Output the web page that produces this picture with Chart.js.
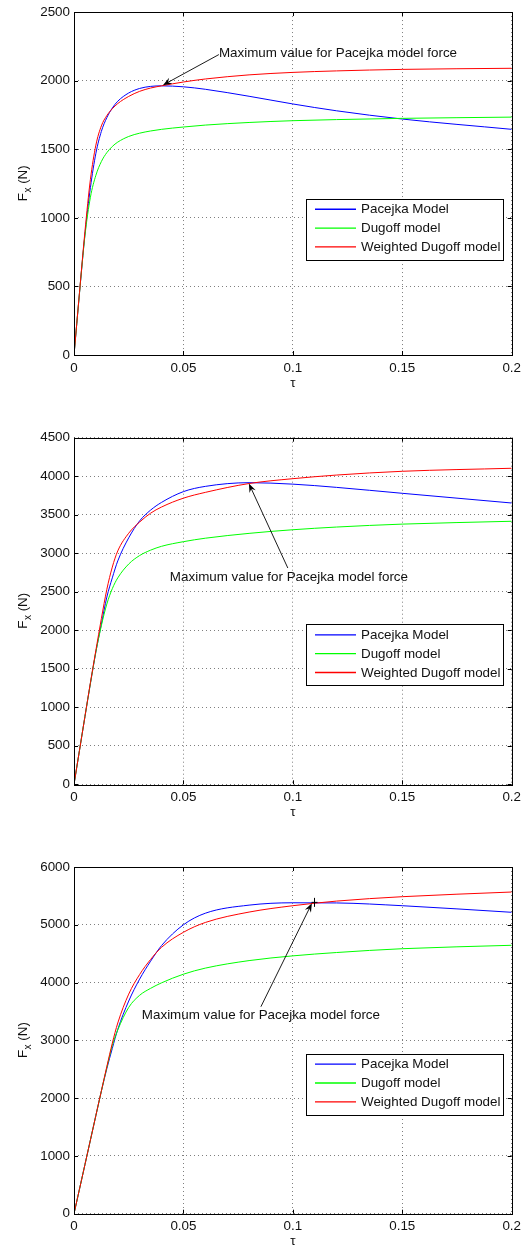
<!DOCTYPE html>
<html><head><meta charset="utf-8">
<script src="https://cdn.jsdelivr.net/npm/chart.js@4.4.1/dist/chart.umd.min.js"></script>
<style>
html,body{margin:0;padding:0;background:#fff;}
#wrap{position:relative;width:526px;height:1249px;overflow:hidden;background:#fff;}
canvas{position:absolute;left:0;}
</style></head><body><div id="wrap">
<canvas id="c1" width="526" height="400" style="top:0px"></canvas>
<canvas id="c2" width="526" height="420" style="top:400px"></canvas>
<canvas id="c3" width="526" height="429" style="top:820px"></canvas>
</div>
<script>
// ---------- DATA ----------
const tau = [0, 0.0025, 0.005, 0.0075, 0.01, 0.0125, 0.015, 0.0175, 0.02, 0.025, 0.03, 0.035, 0.04, 0.05, 0.06, 0.08, 0.1, 0.12, 0.15, 0.2];
const xTickLabels = ['0', '0.05', '0.1', '0.15', '0.2'];
const seriesNames = ['Pacejka Model', 'Dugoff model', 'Weighted Dugoff model'];
const annotationText = 'Maximum value for Pacejka model force';
const xTitle = 'τ';

// Plot 1
const pacejka1  = [0, 450, 880, 1220, 1470, 1630, 1730, 1800, 1850, 1910, 1943, 1958, 1962, 1955, 1937, 1886, 1830, 1780, 1720, 1645];
const dugoff1   = [0, 450, 870, 1150, 1310, 1410, 1475, 1520, 1552, 1593, 1617, 1633, 1645, 1662, 1676, 1695, 1708, 1716, 1725, 1734];
const weighted1 = [0, 455, 900, 1280, 1530, 1670, 1745, 1795, 1833, 1885, 1922, 1946, 1962, 1990, 2012, 2042, 2060, 2071, 2082, 2090];
const yTicks1 = ['0', '500', '1000', '1500', '2000', '2500'];

// Plot 2
const pacejka2  = [0, 440, 880, 1310, 1720, 2080, 2430, 2680, 2900, 3200, 3420, 3560, 3660, 3800, 3868, 3916, 3897, 3855, 3778, 3652];
const dugoff2   = [0, 440, 880, 1310, 1720, 2060, 2340, 2540, 2680, 2860, 2970, 3040, 3090, 3150, 3195, 3258, 3305, 3340, 3378, 3415];
const weighted2 = [0, 440, 880, 1320, 1740, 2150, 2530, 2820, 3030, 3260, 3405, 3520, 3600, 3715, 3790, 3905, 3968, 4015, 4064, 4103];
const yTicks2 = ['0', '500', '1000', '1500', '2000', '2500', '3000', '3500', '4000', '4500'];

// Plot 3
const pacejka3  = [0, 425, 850, 1275, 1700, 2120, 2510, 2860, 3190, 3680, 4060, 4370, 4640, 5000, 5200, 5340, 5381, 5378, 5330, 5216];
const dugoff3   = [0, 425, 850, 1275, 1700, 2120, 2530, 2910, 3180, 3570, 3780, 3900, 3995, 4145, 4250, 4380, 4462, 4520, 4586, 4645];
const weighted3 = [0, 425, 850, 1275, 1700, 2125, 2545, 2950, 3300, 3800, 4140, 4400, 4610, 4870, 5040, 5220, 5330, 5410, 5486, 5567];
const yTicks3 = ['0', '1000', '2000', '3000', '4000', '5000', '6000'];

// ---------- STYLE / LAYOUT ----------
const FONT = '"Liberation Sans", Arial, Helvetica, sans-serif';
const FS = 13.4;
const colors = ['#0000ff', '#00ff00', '#ff0000'];
const plotLeft = 74, plotRight = 512;

function toPts(arr) { return tau.map((x, i) => ({x: x, y: arr[i]})); }

function drawArrow(ctx, x1, y1, x2, y2) {
  const ang = Math.atan2(y2 - y1, x2 - x1);
  const L = 9, W = 3.4;
  ctx.save();
  ctx.strokeStyle = '#000'; ctx.fillStyle = '#000'; ctx.lineWidth = 0.9;
  ctx.beginPath(); ctx.moveTo(x1, y1);
  ctx.lineTo(x2 - Math.cos(ang) * L * 0.6, y2 - Math.sin(ang) * L * 0.6); ctx.stroke();
  const bx = x2 - Math.cos(ang) * L, by = y2 - Math.sin(ang) * L;
  const nx = -Math.sin(ang), ny = Math.cos(ang);
  const mx = x2 - Math.cos(ang) * L * 0.65, my = y2 - Math.sin(ang) * L * 0.65;
  ctx.beginPath();
  ctx.moveTo(x2, y2);
  ctx.lineTo(bx + nx * W, by + ny * W);
  ctx.lineTo(mx, my);
  ctx.lineTo(bx - nx * W, by - ny * W);
  ctx.closePath(); ctx.fill();
  ctx.restore();
}

const decoPlugin = {
  id: 'matlabDeco',
  afterDraw(chart) {
    const ctx = chart.ctx, a = chart.chartArea, o = chart.options.plugins.matlabDeco;
    const xs = chart.scales.x, ys = chart.scales.y;
    ctx.save();
    // box
    ctx.strokeStyle = '#000'; ctx.lineWidth = 1;
    ctx.strokeRect(Math.round(a.left) + 0.5, Math.round(a.top) + 0.5, Math.round(a.right - a.left), Math.round(a.bottom - a.top));
    // inward ticks
    const tl = 4;
    ctx.beginPath();
    xs.ticks.forEach(t => {
      const px = Math.round(xs.getPixelForValue(t.value)) + 0.5;
      ctx.moveTo(px, a.bottom); ctx.lineTo(px, a.bottom - tl);
      ctx.moveTo(px, a.top); ctx.lineTo(px, a.top + tl);
    });
    ys.ticks.forEach(t => {
      const py = Math.round(ys.getPixelForValue(t.value)) + 0.5;
      ctx.moveTo(a.left, py); ctx.lineTo(a.left + tl, py);
      ctx.moveTo(a.right, py); ctx.lineTo(a.right - tl, py);
    });
    ctx.stroke();

    // legend
    const lx0 = 306, lx1 = 503, ly0 = a.top + 186.5, lh = 61;
    ctx.fillStyle = '#fff';
    ctx.fillRect(lx0, ly0, lx1 - lx0, lh);
    ctx.strokeStyle = '#000'; ctx.lineWidth = 1;
    ctx.strokeRect(lx0 + 0.5, Math.round(ly0) + 0.5, lx1 - lx0, lh);
    ctx.font = FS + 'px ' + FONT; ctx.textBaseline = 'middle'; ctx.textAlign = 'left';
    chart.data.datasets.forEach((ds, i) => {
      const ry = ly0 + 10.7 + i * 18.8;
      ctx.strokeStyle = colors[i]; ctx.lineWidth = 1.3;
      ctx.beginPath(); ctx.moveTo(315, ry); ctx.lineTo(356, ry); ctx.stroke();
      ctx.fillStyle = '#111';
      ctx.fillText(ds.label, 361, ry + 0.5);
    });

    // annotation
    const an = o.ann;
    const tx = xs.getPixelForValue(an.text.x), ty = ys.getPixelForValue(an.text.y);
    ctx.fillStyle = '#111'; ctx.font = FS + 'px ' + FONT; ctx.textBaseline = 'middle'; ctx.textAlign = 'left';
    ctx.fillText(annotationText, tx, ty);
    drawArrow(ctx, xs.getPixelForValue(an.tail.x), ys.getPixelForValue(an.tail.y),
                   xs.getPixelForValue(an.tip.x), ys.getPixelForValue(an.tip.y));
    if (an.marker) {
      const mx = Math.round(xs.getPixelForValue(an.marker.x)) + 0.5, my = ys.getPixelForValue(an.marker.y);
      ctx.strokeStyle = '#000'; ctx.lineWidth = 1;
      ctx.beginPath(); ctx.moveTo(mx, my - 4.5); ctx.lineTo(mx, my + 4.5);
      ctx.moveTo(mx - 3, my); ctx.lineTo(mx + 3, my); ctx.stroke();
    }

    // y title  F_x (N)
    ctx.save();
    ctx.translate(27, (a.top + a.bottom) / 2);
    ctx.rotate(-Math.PI / 2);
    ctx.fillStyle = '#111'; ctx.textBaseline = 'alphabetic'; ctx.textAlign = 'left';
    ctx.font = FS + 'px ' + FONT; const wF = ctx.measureText('F').width;
    ctx.font = '10px ' + FONT; const wx = ctx.measureText('x').width;
    ctx.font = FS + 'px ' + FONT; const wN = ctx.measureText(' (N)').width;
    let sx = -(wF + wx + wN) / 2;
    ctx.font = FS + 'px ' + FONT; ctx.fillText('F', sx, 0); sx += wF + 0.5;
    ctx.font = '10px ' + FONT; ctx.fillText('x', sx, 4); sx += wx;
    ctx.font = FS + 'px ' + FONT; ctx.fillText(' (N)', sx, 0);
    ctx.restore();

    // x title
    ctx.fillStyle = '#111'; ctx.font = FS + 'px ' + FONT; ctx.textAlign = 'center'; ctx.textBaseline = 'middle';
    ctx.fillText(xTitle, (a.left + a.right) / 2, a.bottom + 28);
    ctx.restore();
  }
};

function makeChart(id, canvasH, top, bottom, series, yTicks, ann) {
  const yMax = Number(yTicks[yTicks.length - 1]);
  const yStep = Number(yTicks[1]);
  const order = [3, 2, 1];
  return new Chart(document.getElementById(id), {
    type: 'line',
    data: {
      datasets: series.map((arr, i) => ({
        label: seriesNames[i], data: toPts(arr), borderColor: colors[i], backgroundColor: colors[i],
        borderWidth: 1, pointRadius: 0, fill: false, cubicInterpolationMode: 'monotone', order: order[i]
      }))
    },
    options: {
      responsive: false, animation: false, devicePixelRatio: 1,
      layout: { padding: { top: top, right: 526 - plotRight, left: 0, bottom: 0 } },
      plugins: { legend: { display: false }, tooltip: { enabled: false }, matlabDeco: { ann: ann } },
      scales: {
        x: {
          type: 'linear', min: 0, max: 0.2,
          afterFit: s => { s.height = canvasH - bottom; },
          grid: { color: 'rgba(0,0,0,0.5)', lineWidth: 1, drawTicks: false },
          border: { display: false, dash: [1, 3] },
          ticks: { stepSize: 0.05, padding: 5, color: '#111', font: { size: FS, family: FONT },
                   maxRotation: 0, autoSkip: false,
                   callback: (v, i) => xTickLabels[i] }
        },
        y: {
          type: 'linear', min: 0, max: yMax,
          afterFit: s => { s.width = plotLeft; },
          grid: { color: 'rgba(0,0,0,0.5)', lineWidth: 1, drawTicks: false },
          border: { display: false, dash: [1, 3] },
          ticks: { stepSize: yStep, padding: 4, color: '#111', font: { size: FS, family: FONT },
                   autoSkip: false, callback: (v, i) => yTicks[i] }
        }
      }
    },
    plugins: [decoPlugin]
  });
}

makeChart('c1', 400, 8.3, 355, [pacejka1, dugoff1, weighted1], yTicks1,
  { text: {x: 0.0662, y: 2197}, tail: {x: 0.0662, y: 2190}, tip: {x: 0.0406, y: 1967} });
makeChart('c2', 420, 37.7, 384.3, [pacejka2, dugoff2, weighted2], yTicks2,
  { text: {x: 0.0438, y: 2691}, tail: {x: 0.0977, y: 2808}, tip: {x: 0.0799, y: 3906} });
makeChart('c3', 429, 47, 393.7, [pacejka3, dugoff3, weighted3], yTicks3,
  { text: {x: 0.031, y: 3439}, tail: {x: 0.0854, y: 3582}, tip: {x: 0.1087, y: 5372}, marker: {x: 0.1095, y: 5388} });
</script>
</body></html>
